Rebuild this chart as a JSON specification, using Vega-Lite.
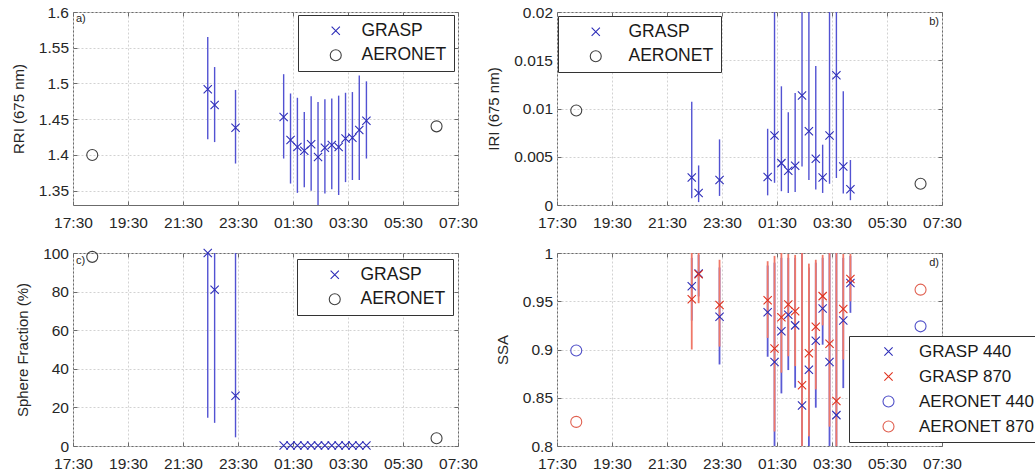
{
  "$schema": "https://vega.github.io/schema/vega-lite/v6.json",
  "background": "white",
  "padding": {"left": 10, "top": 4, "right": 0, "bottom": 0},
  "columns": 2,
  "spacing": {"row": 48, "column": 99},
  "bounds": "flush",
  "resolve": {"scale": {"color": "independent", "shape": "independent"}, "legend": {"color": "independent", "shape": "independent"}},
  "datasets": {
    "a": [
      {"t": 22.4, "src": "GRASP", "v": 1.492, "lo": 1.422, "hi": 1.565},
      {"t": 22.65, "src": "GRASP", "v": 1.470, "lo": 1.418, "hi": 1.523},
      {"t": 23.41, "src": "GRASP", "v": 1.438, "lo": 1.388, "hi": 1.491},
      {"t": 25.16, "src": "GRASP", "v": 1.453, "lo": 1.395, "hi": 1.513},
      {"t": 25.41, "src": "GRASP", "v": 1.421, "lo": 1.360, "hi": 1.486},
      {"t": 25.66, "src": "GRASP", "v": 1.411, "lo": 1.347, "hi": 1.480},
      {"t": 25.91, "src": "GRASP", "v": 1.406, "lo": 1.355, "hi": 1.460},
      {"t": 26.16, "src": "GRASP", "v": 1.415, "lo": 1.350, "hi": 1.482},
      {"t": 26.41, "src": "GRASP", "v": 1.397, "lo": 1.320, "hi": 1.474},
      {"t": 26.66, "src": "GRASP", "v": 1.410, "lo": 1.346, "hi": 1.478},
      {"t": 26.91, "src": "GRASP", "v": 1.414, "lo": 1.352, "hi": 1.479},
      {"t": 27.16, "src": "GRASP", "v": 1.411, "lo": 1.344, "hi": 1.483},
      {"t": 27.41, "src": "GRASP", "v": 1.423, "lo": 1.362, "hi": 1.487},
      {"t": 27.66, "src": "GRASP", "v": 1.424, "lo": 1.365, "hi": 1.488},
      {"t": 27.91, "src": "GRASP", "v": 1.435, "lo": 1.365, "hi": 1.511},
      {"t": 28.17, "src": "GRASP", "v": 1.448, "lo": 1.395, "hi": 1.503},
      {"t": 18.2, "src": "AERONET", "v": 1.400},
      {"t": 30.72, "src": "AERONET", "v": 1.440}
    ],
    "b": [
      {"t": 22.4, "src": "GRASP", "v": 0.00284, "lo": 0.0007, "hi": 0.0107},
      {"t": 22.65, "src": "GRASP", "v": 0.00125, "lo": 0.0003, "hi": 0.0041},
      {"t": 23.41, "src": "GRASP", "v": 0.0026, "lo": 0.00094, "hi": 0.0068},
      {"t": 25.16, "src": "GRASP", "v": 0.0029, "lo": 0.001, "hi": 0.0079},
      {"t": 25.41, "src": "GRASP", "v": 0.0072, "lo": 0.0023, "hi": 0.024},
      {"t": 25.66, "src": "GRASP", "v": 0.00434, "lo": 0.00143, "hi": 0.0123},
      {"t": 25.91, "src": "GRASP", "v": 0.00354, "lo": 0.00125, "hi": 0.0096},
      {"t": 26.16, "src": "GRASP", "v": 0.00406, "lo": 0.00135, "hi": 0.0116},
      {"t": 26.41, "src": "GRASP", "v": 0.01135, "lo": 0.004, "hi": 0.024},
      {"t": 26.66, "src": "GRASP", "v": 0.00764, "lo": 0.0026, "hi": 0.024},
      {"t": 26.91, "src": "GRASP", "v": 0.0048, "lo": 0.0016, "hi": 0.0144},
      {"t": 27.16, "src": "GRASP", "v": 0.00284, "lo": 0.00125, "hi": 0.00625},
      {"t": 27.41, "src": "GRASP", "v": 0.0072, "lo": 0.0022, "hi": 0.024},
      {"t": 27.66, "src": "GRASP", "v": 0.01344, "lo": 0.0028, "hi": 0.024},
      {"t": 27.91, "src": "GRASP", "v": 0.004, "lo": 0.0012, "hi": 0.0118},
      {"t": 28.17, "src": "GRASP", "v": 0.00163, "lo": 0.0005, "hi": 0.00466},
      {"t": 18.2, "src": "AERONET", "v": 0.0098},
      {"t": 30.72, "src": "AERONET", "v": 0.0022}
    ],
    "c": [
      {"t": 22.4, "src": "GRASP", "v": 100, "lo": 14.7, "hi": 100},
      {"t": 22.65, "src": "GRASP", "v": 81, "lo": 12, "hi": 100},
      {"t": 23.41, "src": "GRASP", "v": 26, "lo": 4.5, "hi": 100},
      {"t": 25.16, "src": "GRASP", "v": 0.3},
      {"t": 25.41, "src": "GRASP", "v": 0.3},
      {"t": 25.66, "src": "GRASP", "v": 0.3},
      {"t": 25.91, "src": "GRASP", "v": 0.3},
      {"t": 26.16, "src": "GRASP", "v": 0.3},
      {"t": 26.41, "src": "GRASP", "v": 0.3},
      {"t": 26.66, "src": "GRASP", "v": 0.3},
      {"t": 26.91, "src": "GRASP", "v": 0.3},
      {"t": 27.16, "src": "GRASP", "v": 0.3},
      {"t": 27.41, "src": "GRASP", "v": 0.3},
      {"t": 27.66, "src": "GRASP", "v": 0.3},
      {"t": 27.91, "src": "GRASP", "v": 0.3},
      {"t": 28.17, "src": "GRASP", "v": 0.3},
      {"t": 18.2, "src": "AERONET", "v": 98},
      {"t": 30.72, "src": "AERONET", "v": 4}
    ],
    "d": [
      {"t": 22.4, "src": "GRASP 440", "v": 0.9656, "lo": 0.93, "hi": 0.995},
      {"t": 22.65, "src": "GRASP 440", "v": 0.9787, "lo": 0.955, "hi": 0.998},
      {"t": 23.41, "src": "GRASP 440", "v": 0.934, "lo": 0.8845, "hi": 0.985},
      {"t": 25.16, "src": "GRASP 440", "v": 0.9387, "lo": 0.8925, "hi": 0.987},
      {"t": 25.41, "src": "GRASP 440", "v": 0.887, "lo": 0.78, "hi": 0.99},
      {"t": 25.66, "src": "GRASP 440", "v": 0.919, "lo": 0.8545, "hi": 0.995},
      {"t": 25.91, "src": "GRASP 440", "v": 0.936, "lo": 0.8787, "hi": 0.995},
      {"t": 26.16, "src": "GRASP 440", "v": 0.925, "lo": 0.8604, "hi": 0.995},
      {"t": 26.41, "src": "GRASP 440", "v": 0.842, "lo": 0.78, "hi": 1.03},
      {"t": 26.66, "src": "GRASP 440", "v": 0.879, "lo": 0.78, "hi": 0.985},
      {"t": 26.91, "src": "GRASP 440", "v": 0.909, "lo": 0.8397, "hi": 0.99},
      {"t": 27.16, "src": "GRASP 440", "v": 0.9425, "lo": 0.905, "hi": 0.995},
      {"t": 27.41, "src": "GRASP 440", "v": 0.887, "lo": 0.78, "hi": 1.03},
      {"t": 27.66, "src": "GRASP 440", "v": 0.832, "lo": 0.78, "hi": 1.03},
      {"t": 27.91, "src": "GRASP 440", "v": 0.930, "lo": 0.860, "hi": 0.995},
      {"t": 28.17, "src": "GRASP 440", "v": 0.969, "lo": 0.938, "hi": 0.997},
      {"t": 22.4, "src": "GRASP 870", "v": 0.952, "lo": 0.900, "hi": 1.03},
      {"t": 22.65, "src": "GRASP 870", "v": 0.978, "lo": 0.948, "hi": 1.03},
      {"t": 23.41, "src": "GRASP 870", "v": 0.946, "lo": 0.903, "hi": 0.993},
      {"t": 25.16, "src": "GRASP 870", "v": 0.951, "lo": 0.912, "hi": 0.9915},
      {"t": 25.41, "src": "GRASP 870", "v": 0.901, "lo": 0.815, "hi": 0.997},
      {"t": 25.66, "src": "GRASP 870", "v": 0.9335, "lo": 0.876, "hi": 1.0},
      {"t": 25.91, "src": "GRASP 870", "v": 0.9466, "lo": 0.893, "hi": 0.999},
      {"t": 26.16, "src": "GRASP 870", "v": 0.9397, "lo": 0.8828, "hi": 0.998},
      {"t": 26.41, "src": "GRASP 870", "v": 0.863, "lo": 0.78, "hi": 1.03},
      {"t": 26.66, "src": "GRASP 870", "v": 0.896, "lo": 0.81, "hi": 0.989},
      {"t": 26.91, "src": "GRASP 870", "v": 0.9235, "lo": 0.8587, "hi": 0.993},
      {"t": 27.16, "src": "GRASP 870", "v": 0.9553, "lo": 0.925, "hi": 0.998},
      {"t": 27.41, "src": "GRASP 870", "v": 0.906, "lo": 0.82, "hi": 1.03},
      {"t": 27.66, "src": "GRASP 870", "v": 0.8466, "lo": 0.78, "hi": 1.03},
      {"t": 27.91, "src": "GRASP 870", "v": 0.942, "lo": 0.8897, "hi": 0.999},
      {"t": 28.17, "src": "GRASP 870", "v": 0.973, "lo": 0.95, "hi": 0.999},
      {"t": 18.2, "src": "AERONET 440", "v": 0.899},
      {"t": 30.72, "src": "AERONET 440", "v": 0.924},
      {"t": 18.2, "src": "AERONET 870", "v": 0.825},
      {"t": 30.72, "src": "AERONET 870", "v": 0.962}
    ]
  },
  "concat": [
    {
      "width": 385, "height": 193,
      "data": {"name": "a"},
      "resolve": {"axis": {"x": "independent", "y": "independent"}},
      "layer": [
        {
          "mark": {"type": "rule", "color": "#5252d2", "strokeWidth": 1.4, "clip": true},
          "encoding": {
            "x": {"field": "t", "type": "quantitative", "scale": {"domain": [17.5, 31.5], "nice": false, "zero": false},
                  "axis": {"orient": "top", "values": [17.5, 19.5, 21.5, 23.5, 25.5, 27.5, 29.5, 31.5], "labels": false, "grid": false, "title": null}},
            "y": {"field": "lo", "type": "quantitative", "scale": {"domain": [1.33, 1.6], "nice": false, "zero": false},
                  "axis": {"orient": "right", "values": [1.35, 1.4, 1.45, 1.5, 1.55, 1.6], "labels": false, "grid": false, "title": null}},
            "y2": {"field": "hi"}
          }
        },
        {
          "mark": {"type": "point", "filled": false, "strokeWidth": 1.1, "size": 121, "opacity": 1},
          "encoding": {
            "x": {"field": "t", "type": "quantitative", "scale": {"domain": [17.5, 31.5], "nice": false, "zero": false},
                  "axis": {"orient": "bottom", "values": [17.5, 19.5, 21.5, 23.5, 25.5, 27.5, 29.5, 31.5], "labelExpr": "(floor(datum.value) % 24 < 10 ? '0' : '') + (floor(datum.value) % 24) + ':30'", "grid": true, "title": null, "labelPadding": 14}},
            "y": {"field": "v", "type": "quantitative", "scale": {"domain": [1.33, 1.6], "nice": false, "zero": false},
                  "axis": {"orient": "left", "values": [1.35, 1.4, 1.45, 1.5, 1.55, 1.6], "format": "~r", "grid": true, "title": "RRI (675 nm)", "labelPadding": 8.5, "titlePadding": 12}},
            "color": {"field": "src", "type": "nominal", "scale": {"domain": ["GRASP", "AERONET"], "range": ["#2e2eb8", "#404040"]},
                      "legend": {"orient": "none", "legendX": 225, "legendY": 3, "title": null, "fillColor": "white", "strokeColor": "#333333", "padding": 7, "rowPadding": 5.5, "labelFontSize": 17.5, "labelColor": "#1a1a1a", "symbolSize": 121, "symbolStrokeWidth": 1.1, "symbolOffset": 22, "labelOffset": 17}},
            "shape": {"field": "src", "type": "nominal", "scale": {"domain": ["GRASP", "AERONET"], "range": ["M-0.75,-0.75L0.75,0.75M-0.75,0.75L0.75,-0.75", "circle"]}}
          }
        },
        {
          "data": {"values": [{"lab": "a)"}]},
          "mark": {"type": "text", "align": "left", "baseline": "top", "dx": 3, "dy": 1, "fontSize": 11, "color": "#222222"},
          "encoding": {
            "x": {"datum": 17.5, "type": "quantitative", "axis": null},
            "y": {"datum": 1.6, "type": "quantitative", "axis": null},
            "text": {"field": "lab"}
          }
        }
      ]
    },
    {
      "width": 385, "height": 193,
      "data": {"name": "b"},
      "resolve": {"axis": {"x": "independent", "y": "independent"}},
      "layer": [
        {
          "mark": {"type": "rule", "color": "#5252d2", "strokeWidth": 1.4, "clip": true},
          "encoding": {
            "x": {"field": "t", "type": "quantitative", "scale": {"domain": [17.5, 31.5], "nice": false, "zero": false},
                  "axis": {"orient": "top", "values": [17.5, 19.5, 21.5, 23.5, 25.5, 27.5, 29.5, 31.5], "labels": false, "grid": false, "title": null}},
            "y": {"field": "lo", "type": "quantitative", "scale": {"domain": [0, 0.02], "nice": false, "zero": false},
                  "axis": {"orient": "right", "values": [0, 0.005, 0.01, 0.015, 0.02], "labels": false, "grid": false, "title": null}},
            "y2": {"field": "hi"}
          }
        },
        {
          "mark": {"type": "point", "filled": false, "strokeWidth": 1.1, "size": 121, "opacity": 1},
          "encoding": {
            "x": {"field": "t", "type": "quantitative", "scale": {"domain": [17.5, 31.5], "nice": false, "zero": false},
                  "axis": {"orient": "bottom", "values": [17.5, 19.5, 21.5, 23.5, 25.5, 27.5, 29.5, 31.5], "labelExpr": "(floor(datum.value) % 24 < 10 ? '0' : '') + (floor(datum.value) % 24) + ':30'", "grid": true, "title": null, "labelPadding": 14}},
            "y": {"field": "v", "type": "quantitative", "scale": {"domain": [0, 0.02], "nice": false, "zero": false},
                  "axis": {"orient": "left", "values": [0, 0.005, 0.01, 0.015, 0.02], "format": "~r", "grid": true, "title": "IRI (675 nm)", "labelPadding": 8.5, "titlePadding": 12}},
            "color": {"field": "src", "type": "nominal", "scale": {"domain": ["GRASP", "AERONET"], "range": ["#2e2eb8", "#404040"]},
                      "legend": {"orient": "none", "legendX": 1, "legendY": 4, "title": null, "fillColor": "white", "strokeColor": "#333333", "padding": 7, "rowPadding": 5.5, "labelFontSize": 17.5, "labelColor": "#1a1a1a", "symbolSize": 121, "symbolStrokeWidth": 1.1, "symbolOffset": 22, "labelOffset": 24}},
            "shape": {"field": "src", "type": "nominal", "scale": {"domain": ["GRASP", "AERONET"], "range": ["M-0.75,-0.75L0.75,0.75M-0.75,0.75L0.75,-0.75", "circle"]}}
          }
        },
        {
          "data": {"values": [{"lab": "b)"}]},
          "mark": {"type": "text", "align": "right", "baseline": "top", "dx": -3, "dy": 4, "fontSize": 11, "color": "#222222"},
          "encoding": {
            "x": {"datum": 31.5, "type": "quantitative", "axis": null},
            "y": {"datum": 0.02, "type": "quantitative", "axis": null},
            "text": {"field": "lab"}
          }
        }
      ]
    },
    {
      "width": 385, "height": 193,
      "data": {"name": "c"},
      "resolve": {"axis": {"x": "independent", "y": "independent"}},
      "layer": [
        {
          "mark": {"type": "rule", "color": "#5252d2", "strokeWidth": 1.4, "clip": true},
          "encoding": {
            "x": {"field": "t", "type": "quantitative", "scale": {"domain": [17.5, 31.5], "nice": false, "zero": false},
                  "axis": {"orient": "top", "values": [17.5, 19.5, 21.5, 23.5, 25.5, 27.5, 29.5, 31.5], "labels": false, "grid": false, "title": null}},
            "y": {"field": "lo", "type": "quantitative", "scale": {"domain": [0, 100], "nice": false, "zero": false},
                  "axis": {"orient": "right", "values": [0, 20, 40, 60, 80, 100], "labels": false, "grid": false, "title": null}},
            "y2": {"field": "hi"}
          }
        },
        {
          "mark": {"type": "point", "filled": false, "strokeWidth": 1.1, "size": 121, "opacity": 1},
          "encoding": {
            "x": {"field": "t", "type": "quantitative", "scale": {"domain": [17.5, 31.5], "nice": false, "zero": false},
                  "axis": {"orient": "bottom", "values": [17.5, 19.5, 21.5, 23.5, 25.5, 27.5, 29.5, 31.5], "labelExpr": "(floor(datum.value) % 24 < 10 ? '0' : '') + (floor(datum.value) % 24) + ':30'", "grid": true, "title": null, "labelPadding": 14}},
            "y": {"field": "v", "type": "quantitative", "scale": {"domain": [0, 100], "nice": false, "zero": false},
                  "axis": {"orient": "left", "values": [0, 20, 40, 60, 80, 100], "format": "~r", "grid": true, "title": "Sphere Fraction (%)", "labelPadding": 8.5, "titlePadding": 12}},
            "color": {"field": "src", "type": "nominal", "scale": {"domain": ["GRASP", "AERONET"], "range": ["#2e2eb8", "#404040"]},
                      "legend": {"orient": "none", "legendX": 224, "legendY": 6, "title": null, "fillColor": "white", "strokeColor": "#333333", "padding": 7, "rowPadding": 5.5, "labelFontSize": 17.5, "labelColor": "#1a1a1a", "symbolSize": 121, "symbolStrokeWidth": 1.1, "symbolOffset": 22, "labelOffset": 17}},
            "shape": {"field": "src", "type": "nominal", "scale": {"domain": ["GRASP", "AERONET"], "range": ["M-0.75,-0.75L0.75,0.75M-0.75,0.75L0.75,-0.75", "circle"]}}
          }
        },
        {
          "data": {"values": [{"lab": "c)"}]},
          "mark": {"type": "text", "align": "left", "baseline": "top", "dx": 3, "dy": 2, "fontSize": 11, "color": "#222222"},
          "encoding": {
            "x": {"datum": 17.5, "type": "quantitative", "axis": null},
            "y": {"datum": 100, "type": "quantitative", "axis": null},
            "text": {"field": "lab"}
          }
        }
      ]
    },
    {
      "width": 385, "height": 193,
      "data": {"name": "d"},
      "resolve": {"axis": {"x": "independent", "y": "independent"}},
      "layer": [
        {
          "transform": [{"filter": "datum.src === 'GRASP 440'"}],
          "mark": {"type": "rule", "color": "#5a5ad4", "strokeWidth": 1.8, "clip": true},
          "encoding": {
            "x": {"field": "t", "type": "quantitative", "scale": {"domain": [17.5, 31.5], "nice": false, "zero": false},
                  "axis": {"orient": "top", "values": [17.5, 19.5, 21.5, 23.5, 25.5, 27.5, 29.5, 31.5], "labels": false, "grid": false, "title": null}},
            "y": {"field": "lo", "type": "quantitative", "scale": {"domain": [0.8, 1], "nice": false, "zero": false},
                  "axis": {"orient": "right", "values": [0.8, 0.85, 0.9, 0.95, 1], "labels": false, "grid": false, "title": null}},
            "y2": {"field": "hi"}
          }
        },
        {
          "transform": [{"filter": "datum.src === 'GRASP 870'"}],
          "mark": {"type": "rule", "color": "#f07868", "strokeWidth": 1.8, "clip": true},
          "encoding": {
            "x": {"field": "t", "type": "quantitative", "scale": {"domain": [17.5, 31.5], "nice": false, "zero": false}, "axis": null},
            "y": {"field": "lo", "type": "quantitative", "scale": {"domain": [0.8, 1], "nice": false, "zero": false}, "axis": null},
            "y2": {"field": "hi"}
          }
        },
        {
          "mark": {"type": "point", "filled": false, "strokeWidth": 1.1, "size": 121, "opacity": 1},
          "encoding": {
            "x": {"field": "t", "type": "quantitative", "scale": {"domain": [17.5, 31.5], "nice": false, "zero": false},
                  "axis": {"orient": "bottom", "values": [17.5, 19.5, 21.5, 23.5, 25.5, 27.5, 29.5, 31.5], "labelExpr": "(floor(datum.value) % 24 < 10 ? '0' : '') + (floor(datum.value) % 24) + ':30'", "grid": true, "title": null, "labelPadding": 14}},
            "y": {"field": "v", "type": "quantitative", "scale": {"domain": [0.8, 1], "nice": false, "zero": false},
                  "axis": {"orient": "left", "values": [0.8, 0.85, 0.9, 0.95, 1], "format": "~r", "grid": true, "title": "SSA", "labelPadding": 8.5, "titlePadding": 12}},
            "color": {"field": "src", "type": "nominal", "scale": {"domain": ["GRASP 440", "GRASP 870", "AERONET 440", "AERONET 870"], "range": ["#2e2eb8", "#e0321e", "#5050c8", "#e06050"]},
                      "legend": {"orient": "none", "legendX": 292, "legendY": 83, "title": null, "fillColor": "white", "strokeColor": "#333333", "padding": 7, "rowPadding": 7, "labelFontSize": 17, "labelColor": "#1a1a1a", "symbolSize": 121, "symbolStrokeWidth": 1.1, "symbolOffset": 24, "labelOffset": 22}},
            "shape": {"field": "src", "type": "nominal", "scale": {"domain": ["GRASP 440", "GRASP 870", "AERONET 440", "AERONET 870"], "range": ["M-0.75,-0.75L0.75,0.75M-0.75,0.75L0.75,-0.75", "M-0.75,-0.75L0.75,0.75M-0.75,0.75L0.75,-0.75", "circle", "circle"]}}
          }
        },
        {
          "data": {"values": [{"lab": "d)"}]},
          "mark": {"type": "text", "align": "right", "baseline": "top", "dx": -3, "dy": 4, "fontSize": 11, "color": "#222222"},
          "encoding": {
            "x": {"datum": 31.5, "type": "quantitative", "axis": null},
            "y": {"datum": 1, "type": "quantitative", "axis": null},
            "text": {"field": "lab"}
          }
        }
      ]
    }
  ],
  "config": {
    "font": "Liberation Sans",
    "view": {"stroke": "#6b6b6b", "strokeWidth": 1},
    "axis": {
      "labelFont": "Liberation Sans", "labelFontSize": 15.5, "labelColor": "#262626",
      "titleFont": "Liberation Sans", "titleFontSize": 15, "titleFontWeight": "normal", "titleColor": "#262626",
      "domain": false, "tickColor": "#6b6b6b", "tickSize": -4, "tickWidth": 1,
      "gridColor": "#d2d2d2", "gridDash": [2, 2], "gridWidth": 1,
      "labelOverlap": false, "labelFlush": false, "labelBound": false
    },
    "legend": {"labelFont": "Liberation Sans"}
  }
}
